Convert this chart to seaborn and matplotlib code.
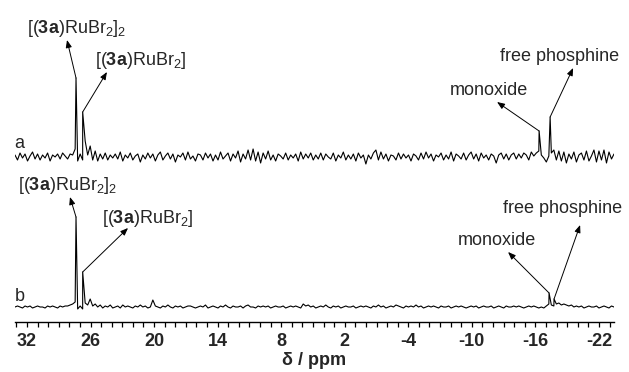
import numpy as np
import pandas as pd
import seaborn as sns
import matplotlib.pyplot as plt

# baseline noise (height above baseline), evenly spaced over the ppm window
noise_a = [2, -3, 4, -1, 3, -4, 1, 5, -2, 3, -3, 2, -1, 4, -4, 2, 0, 3, -2, 4,
           1, -2, 3, 2, 8, -4, 3, -3, 16, 2, 11, -3, 6, -4, 3, -2, 4, -3, 2, -1,
           3, -2, 5, -4, 2, -1, 4, -3, 1, 3, -5, 2, -2, 4, -1, 3, -4, 2, 5, -3,
           1, 4, -2, 3, -5, 2, 0, 4, -3, 5, -2, 1, -4, 3, 2, -3, 4, -1, 3, -4,
           2, -3, 5, -2, 1, 4, -4, 3, -1, 6, -5, 3, -2, 7, -3, 8, -4, 5, -6, 4,
           -2, 6, -3, 2, -4, 3, 1, -2, 4, -3, 2, -1, 3, -4, 5, -2, 3, -1, 4, -3,
           2, -2, 4, -3, 3, 0, -2, 4, -4, 2, -1, 5, -3, 2, -2, 3, -4, 4, -1, 2,
           -7, 2, -2, 4, 7, -3, 5, -2, 3, -4, 2, 1, -3, 4, -2, 3, -1, 2, -4, 3,
           1, -3, 4, -2, 5, -1, 3, -4, 2, 0, 4, -3, 2, -2, 5, -4, 3, 1, -2, 4,
           -3, 2, 5, -2, 3, -4, 4, -1, 2, -3, 3, 1, -6, 2, 4, -2, 3, -3, 2, 4,
           -2, 3, -1, 4, 2, -3, 5, 1, 4, 6, 2, -1, -5, 1, 4, 7, -3, 6, -4, 5,
           -6, 3, -2, 5, -5, 2, 4, -3, 6, -4, 1, 7, -5, 6, -3, 7, -6, 5, -2, 3]
noise_b = [0, 1, 0, -1, 1, 0, 1, -1, 0, 1, 0, 0, -1, 1, 0, 1, 0, -1, 1, 0,
           1, 1, 2, 3, 5, -2, 1, -2, 4, 2, 8, 1, 3, 0, 2, -1, 1, 0, 2, -1,
           0, 1, -1, 2, 0, 1, 0, -1, 1, 0, 2, 0, 1, -1, 0, 7, 1, 0, -1, 1,
           0, 2, 0, -1, 1, 0, 1, -1, 0, 1, 1, 0, -1, 0, 1, 0, 2, -1, 0, 1,
           0, -1, 1, 0, 2, 0, -1, 1, 0, 0, 1, -1, 1, 2, 0, 0, -1, 1, 0, 1,
           0, 1, -1, 0, 1, 0, 0, 1, -1, 0, 1, 0, 1, 0, -1, 3, 1, 2, 0, 1,
           -1, 0, 1, 0, 2, 0, -1, 1, 0, 1, -1, 0, 1, 0, 0, 1, -1, 0, 1, 0,
           1, 0, -1, 1, 0, 2, 0, 1, -1, 0, 1, 0, 2, 1, 0, -1, 1, 0, 1, 0,
           2, 0, 1, -1, 0, 1, 0, 1, 0, -1, 1, 0, 0, 1, -1, 0, 1, 0, 1, 0,
           -1, 0, 1, 0, 1, -1, 0, 1, 0, 0, 1, -1, 0, 1, 0, -1, 1, 0, 0, 1,
           0, 1, 0, -1, 0, 1, 0, 1, 0, -1, 0, -1, 1, 3, 2, 1, 3, 4, 2, 3,
           2, 1, 2, 0, 1, 0, 1, -1, 0, 1, 0, 0, 1, -1, 0, 1, 0, -1, 1, 0]

# peaks: [(3a)RuBr2]2, [(3a)RuBr2], monoxide, free phosphine
peak_ppm_a = [27.37, 26.74, -16.35, -17.39]
peak_h_a = [79, 45, 26, 40]
peak_ppm_b = [27.37, 26.74, -17.29, -17.76]
peak_h_b = [90, 35, 14, 8]
peak_names = [r'[($\mathbf{3a}$)RuBr$_2$]$_2$', r'[($\mathbf{3a}$)RuBr$_2$]',
              'monoxide', 'free phosphine']
trace_names = ['a', 'b']
tick_vals = [32, 26, 20, 14, 8, 2, -4, -10, -16, -22]

ppm_left, ppm_right = 33.13, -23.42
base_a, base_b = 165, 15


def build_trace(noise, pk_ppm, pk_h, base, name):
    grid = np.linspace(ppm_left, ppm_right, len(noise))
    x = np.concatenate([grid, pk_ppm])
    y = np.concatenate([noise, pk_h]) + base
    df = pd.DataFrame({'ppm': x, 'y': y, 'trace': name})
    return df.sort_values('ppm', ascending=False)


df = pd.concat([build_trace(noise_a, peak_ppm_a, peak_h_a, base_a, 'a'),
                build_trace(noise_b, peak_ppm_b, peak_h_b, base_b, 'b')],
               ignore_index=True)

sns.set_theme(style='white')
plt.rcParams['font.family'] = ['Liberation Sans', 'DejaVu Sans']
plt.rcParams['mathtext.fontset'] = 'custom'
plt.rcParams['mathtext.rm'] = 'Liberation Sans'
plt.rcParams['mathtext.bf'] = 'Liberation Sans:bold'
plt.rcParams['mathtext.it'] = 'Liberation Sans:italic'

fig = plt.figure(figsize=(6.29, 3.72), dpi=100)
ax = fig.add_axes([15 / 629, 50 / 372, 599 / 629, 312 / 372])

sns.lineplot(data=df, x='ppm', y='y', units='trace', estimator=None, sort=False,
             color='black', lw=0.8, ax=ax)

ax.set_xlim(ppm_left, ppm_right)
ax.set_ylim(0, 312)
for s in ['left', 'top', 'right']:
    ax.spines[s].set_visible(False)
ax.spines['bottom'].set_linewidth(1.0)
ax.spines['bottom'].set_color('black')
ax.set_yticks([])
ax.set_ylabel('')
ax.set_xticks(tick_vals)
ax.set_xticks(np.arange(-23, 34, 1), minor=True)
ax.set_xticklabels([str(v) for v in tick_vals], fontsize=13, fontweight='bold')
ax.tick_params(axis='x', which='both', direction='out', length=3.5, width=0.9,
               color='black', pad=4.5, bottom=True)
ax.set_xlabel('δ / ppm', fontsize=13, fontweight='bold', labelpad=1.5)

# label positions (text left/baseline, arrow end) for each trace
layout_a = [(32.0, 289, 28.22, 282), (25.58, 257, 24.45, 250),
            (-7.94, 227, -12.38, 220), (-12.66, 261, -19.56, 254)]
layout_b = [(32.85, 132, 27.94, 125), (24.92, 99, 22.46, 94),
            (-8.70, 77, -13.42, 70), (-12.95, 109, -20.22, 97)]

for pk_ppm, pk_h, base, layout in [(peak_ppm_a, peak_h_a, base_a, layout_a),
                                   (peak_ppm_b, peak_h_b, base_b, layout_b)]:
    for name, px, ph, (tx, ty, ex, ey) in zip(peak_names, pk_ppm, pk_h, layout):
        ax.text(tx, ty, name, fontsize=13, ha='left', va='baseline')
        ax.annotate('', xy=(ex, ey), xytext=(px, base + ph),
                    arrowprops=dict(arrowstyle='-|>,head_length=0.45,head_width=0.18',
                                    lw=0.7, color='black', shrinkA=0, shrinkB=0,
                                    mutation_scale=10))

ax.text(33.2, 174, trace_names[0], fontsize=13, ha='left', va='baseline', clip_on=False)
ax.text(33.13, 21, trace_names[1], fontsize=13, ha='left', va='baseline', clip_on=False)

fig.savefig('out.png', dpi=100)
